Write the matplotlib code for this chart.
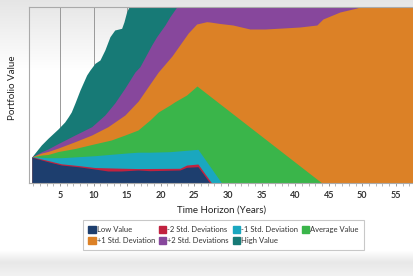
import matplotlib
matplotlib.use("Agg")
import matplotlib.pyplot as plt
from matplotlib.patches import Patch
import numpy as np

plt.rcParams["font.family"] = ["Lato", "DejaVu Sans"]

# Valores (eje vertical normalizado 0-100, sin etiquetas)
anos_alto = [0.83, 2.22, 3.21, 4.70, 5.70, 6.24, 6.68, 7.23, 7.98, 8.97, 9.46, 10.21, 10.95, 11.68,
             12.44, 13.15, 14.18, 14.52, 14.93, 15.27, 16, 20, 58]
valor_alto = [14.94, 21.59, 25.40, 30.68, 34.66, 37.67, 40.34, 45.45, 52.84, 61.36, 64.20, 68.01, 69.89, 75.57,
              83.13, 86.93, 87.90, 91.48, 97.33, 100, 106, 120, 140]

anos_mas2 = [0.83, 2.28, 3.21, 4.75, 7.23, 9.72, 11.68, 13.15, 14.67, 16.16, 16.90, 18.65, 19.39, 20.63,
             21.37, 22.37, 25, 58]
valor_mas2 = [14.94, 17.78, 19.32, 22.44, 27.27, 31.99, 38.64, 45.45, 53.98, 63.07, 66.08, 78.41, 83.13, 89.77,
              94.49, 100, 110, 130]

anos_mas1 = [0.83, 2.28, 3.21, 4.75, 7.23, 9.72, 12.14, 14.67, 16.65, 18.39, 19.63, 21.67, 24.09, 25.34,
             26.83, 27.32, 28.81, 30.74, 33.27, 35.51, 38.18, 40.71, 43.24, 44.14, 46.67, 49.20, 52, 58]
valor_mas1 = [14.94, 17.05, 17.90, 19.89, 23.47, 27.27, 31.99, 38.64, 46.59, 56.25, 63.07, 72.16, 85.23, 90.34,
              91.65, 91.48, 90.63, 89.77, 87.50, 87.50, 88.07, 88.64, 89.77, 93.18, 97.16, 99.43, 104, 110]

anos_media = [0.83, 2.28, 3.21, 4.75, 7.23, 9.72, 12.63, 14.67, 16.61, 18.39, 19.63, 21.37, 22.11, 23.85,
              25.39, 43.99]
valor_media = [14.94, 15.91, 16.19, 17.90, 19.60, 21.88, 24.43, 27.27, 30.11, 35.80, 40.34, 44.32, 46.19, 50.0,
               55.11, 0]

anos_menos1 = [0.83, 3.21, 5.19, 7.68, 10.16, 12.63, 15.12, 16.61, 18.39, 21.37, 24.35, 25.54, 29.06]
valor_menos1 = [14.94, 14.38, 14.38, 14.94, 15.51, 16.31, 17.10, 17.50, 17.50, 17.80, 18.75, 19.15, 0]

anos_menos2 = [0.83, 3.21, 5.19, 7.68, 10.16, 12.14, 14.12, 16.61, 18.39, 22.86, 23.85, 25.54, 27.57]
valor_menos2 = [14.90, 12.78, 10.91, 9.94, 8.81, 8.60, 8.40, 8.20, 8.24, 8.35, 10.20, 10.80, 0]

anos_bajo = [0.83, 3.21, 5.19, 7.68, 10.16, 12.14, 14.12, 16.61, 18.39, 22.86, 23.85, 25.54, 27.32]
valor_bajo = [14.60, 12.10, 10.23, 9.26, 7.95, 6.82, 6.82, 7.39, 6.99, 7.39, 8.92, 9.26, 0]

ticks_x = [5, 10, 15, 20, 25, 30, 35, 40, 45, 50, 55]

COLOR_BAJO = "#1d3e6e"
COLOR_MENOS2 = "#c1223f"
COLOR_MENOS1 = "#1aa7bf"
COLOR_MEDIA = "#3ab54a"
COLOR_MAS1 = "#dc8126"
COLOR_MAS2 = "#87479c"
COLOR_ALTO = "#177a76"

figura = plt.figure(figsize=(4.14, 2.76), dpi=100)

# Fondo con degradado gris arriba y abajo
fondo = figura.add_axes([0, 0, 1, 1], zorder=-5)
filas = np.arange(276)
gris = np.ones(276)
gris = np.where(filas < 70, 0.90 + 0.10 * filas / 70, gris)
abajo = (filas >= 250) & (filas < 262)
gris = np.where(abajo, 1 - 0.09 * (filas - 250) / 12, gris)
gris = np.where(filas >= 262, 0.91 + 0.04 * (filas - 262) / 14, gris)
fondo.imshow(np.tile(gris[:, None, None], (1, 1, 3)), aspect="auto", extent=[0, 1, 0, 1])
fondo.axis("off")

ejes = figura.add_axes([29 / 414, 93 / 276, 385 / 414, 176 / 276])
ejes.set_facecolor("none")

series = [
    (anos_alto, valor_alto, COLOR_ALTO),
    (anos_mas2, valor_mas2, COLOR_MAS2),
    (anos_mas1, valor_mas1, COLOR_MAS1),
    (anos_media, valor_media, COLOR_MEDIA),
    (anos_menos1, valor_menos1, COLOR_MENOS1),
    (anos_menos2, valor_menos2, COLOR_MENOS2),
    (anos_bajo, valor_bajo, COLOR_BAJO),
]
for anos, valores, color in series:
    ejes.fill_between(anos, 0, valores, color=color, linewidth=0, zorder=2)

ejes.set_xlim(0.39, 57.7)
ejes.set_ylim(0, 100)
ejes.set_xticks(ticks_x)
ejes.set_xticks(range(1, 58), minor=True)
ejes.set_yticks([])
ejes.tick_params(axis="x", which="major", length=2.5, width=0.6, color="#888888", labelsize=6.5,
                 labelcolor="#333333", pad=3)
ejes.tick_params(axis="x", which="minor", length=2, width=0.5, color="#999999")
for etiqueta in ejes.get_xticklabels():
    etiqueta.set_fontweight("bold")

ejes.grid(True, axis="x", color="#999999", linewidth=0.7, zorder=1)
ejes.set_axisbelow(True)

for lado in ["left", "top", "bottom"]:
    ejes.spines[lado].set_color("#aaaaaa")
    ejes.spines[lado].set_linewidth(0.8)
ejes.spines["right"].set_visible(False)

ejes.set_xlabel("Time Horizon (Years)", fontsize=7, color="#222222", labelpad=4)
ejes.set_ylabel("Portfolio Value", fontsize=7, color="#222222")
ejes.yaxis.set_label_coords(-0.031, 0.54)

# Orden por columnas para que las filas queden como en la leyenda original
manejadores = [
    Patch(color=COLOR_BAJO, label="Low Value"),
    Patch(color=COLOR_MAS1, label="+1 Std. Deviation"),
    Patch(color=COLOR_MENOS2, label="-2 Std. Deviations"),
    Patch(color=COLOR_MAS2, label="+2 Std. Deviations"),
    Patch(color=COLOR_MENOS1, label="-1 Std. Deviation"),
    Patch(color=COLOR_ALTO, label="High Value"),
    Patch(color=COLOR_MEDIA, label="Average Value"),
]
leyenda = figura.legend(handles=manejadores, ncol=4, loc="center", bbox_to_anchor=(223.5 / 414, 1 - 235 / 276),
                        fontsize=5.5, frameon=True, fancybox=False, handlelength=0.95, handleheight=1.0,
                        handletextpad=0.15, columnspacing=0.5, labelspacing=0.6, borderpad=0.7,
                        borderaxespad=0)
leyenda.get_frame().set_edgecolor("#bbbbbb")
leyenda.get_frame().set_linewidth(0.8)
for texto in leyenda.get_texts():
    texto.set_color("#333333")

figura.savefig("out.png", dpi=100)
plt.close(figura)
